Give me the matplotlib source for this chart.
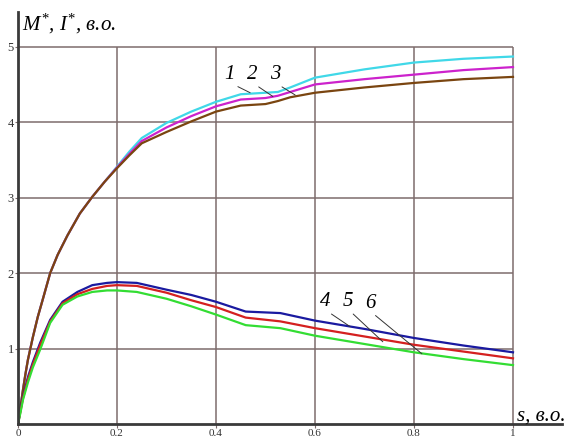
import matplotlib
matplotlib.use("Agg")
import matplotlib.pyplot as plt

# slip grid and current curves (1, 2, 3)
s_up = [0, 0.005, 0.01, 0.015, 0.02, 0.03, 0.04, 0.05, 0.065, 0.08, 0.1, 0.125,
        0.15, 0.175, 0.2, 0.225, 0.25, 0.3, 0.35, 0.4, 0.45, 0.5, 0.525, 0.55,
        0.6, 0.7, 0.8, 0.9, 1.0]
base = [0, 0.22, 0.45, 0.66, 0.85, 1.15, 1.42, 1.65, 2.0, 2.24, 2.5, 2.79,
        3.01, 3.21]
curve1 = base + [3.41, 3.61, 3.79, 3.99, 4.14, 4.27, 4.37, 4.39, 4.40, 4.46, 4.59, 4.70, 4.79, 4.84, 4.87]
curve2 = base + [3.40, 3.58, 3.75, 3.93, 4.08, 4.21, 4.30, 4.32, 4.35, 4.40, 4.50, 4.57, 4.63, 4.69, 4.73]
curve3 = base + [3.39, 3.56, 3.72, 3.87, 4.01, 4.14, 4.22, 4.24, 4.28, 4.33, 4.39, 4.46, 4.52, 4.57, 4.60]

# torque curves (4, 5, 6)
s_lo = [0, 0.005, 0.01, 0.02, 0.03, 0.045, 0.065, 0.09, 0.12, 0.15, 0.18, 0.2,
        0.24, 0.3, 0.35, 0.4, 0.46, 0.53, 0.6, 0.7, 0.8, 0.9, 1.0]
curve4 = [0, 0.19, 0.36, 0.62, 0.82, 1.08, 1.38, 1.62, 1.75, 1.84, 1.87, 1.88,
          1.87, 1.78, 1.71, 1.62, 1.49, 1.47, 1.37, 1.26, 1.14, 1.04, 0.95]
curve5 = [0, 0.17, 0.34, 0.59, 0.79, 1.05, 1.36, 1.60, 1.72, 1.79, 1.83, 1.84,
          1.83, 1.74, 1.64, 1.55, 1.41, 1.36, 1.27, 1.16, 1.05, 0.96, 0.87]
curve6 = [0, 0.15, 0.32, 0.55, 0.75, 0.99, 1.34, 1.58, 1.69, 1.75, 1.77, 1.77,
          1.75, 1.66, 1.56, 1.45, 1.31, 1.27, 1.17, 1.06, 0.95, 0.86, 0.78]

x_ticks = [0, 0.2, 0.4, 0.6, 0.8, 1]
x_tick_labels = ["0", "0.2", "0.4", "0.6", "0.8", "1"]
y_ticks = [1, 2, 3, 4, 5]

plt.rcParams['mathtext.fontset'] = 'custom'
plt.rcParams['mathtext.it'] = 'Liberation Serif:italic'
plt.rcParams['mathtext.rm'] = 'Liberation Serif'

fig = plt.figure(figsize=(5.75, 4.4), dpi=100)
ax = fig.add_axes([18 / 575, 16 / 440, 544 / 575, 412 / 440])
ax.set_xlim(0, 1.099)
ax.set_ylim(0, 5.46)

grid_color = '#7d6c6c'
ax.hlines(y_ticks, 0, 1, color=grid_color, lw=1.1, zorder=1)
ax.vlines([0.2, 0.4, 0.6, 0.8, 1.0], 0, 5, color=grid_color, lw=1.1, zorder=1)

ax.plot(s_up, curve1, color='#40d8e8', lw=1.6)
ax.plot(s_up, curve2, color='#cc22cc', lw=1.6)
ax.plot(s_up, curve3, color='#7a4510', lw=1.6)
ax.plot(s_lo, curve4, color='#1a1aa0', lw=1.6)
ax.plot(s_lo, curve5, color='#d42020', lw=1.6)
ax.plot(s_lo, curve6, color='#33dd33', lw=1.6)

for sp in ['top', 'right']:
    ax.spines[sp].set_visible(False)
for sp in ['left', 'bottom']:
    ax.spines[sp].set_color('#3a3a3a')
    ax.spines[sp].set_linewidth(2)

ax.set_xticks(x_ticks)
ax.set_xticklabels(x_tick_labels)
ax.set_yticks(y_ticks)
ax.tick_params(axis='x', length=3, pad=0.5, color=grid_color, labelsize=8,
               labelcolor='#333333')
ax.tick_params(axis='y', length=2, pad=1, color=grid_color, labelsize=9,
               labelcolor='#333333')
for lab in ax.get_xticklabels() + ax.get_yticklabels():
    lab.set_family('Liberation Serif')

lab_font = dict(family='Liberation Serif', style='italic', size=15)
leader = dict(arrowstyle='-', lw=0.7, color='#333333', shrinkA=0, shrinkB=0,
              relpos=(0.6, 0.05))
labels = [("1", (0.428, 4.63), (0.469, 4.39)),
          ("2", (0.473, 4.63), (0.515, 4.34)),
          ("3", (0.519, 4.63), (0.560, 4.36)),
          ("4", (0.620, 1.62), (0.671, 1.29)),
          ("5", (0.667, 1.62), (0.737, 1.09)),
          ("6", (0.711, 1.60), (0.816, 0.93))]
for txt, pos, tip in labels:
    ax.annotate(txt, xy=tip, xytext=pos, ha='center', va='center',
                arrowprops=leader, **lab_font)

fig.text(22 / 575, 1 - 30 / 440, r"$M^{*}$, $I^{*}$, в.о.", ha='left',
         va='baseline', **lab_font)
fig.text(517 / 575, 1 - 421 / 440, "s, в.о.", ha='left', va='baseline',
         **lab_font)

fig.savefig("out.png", dpi=100)
